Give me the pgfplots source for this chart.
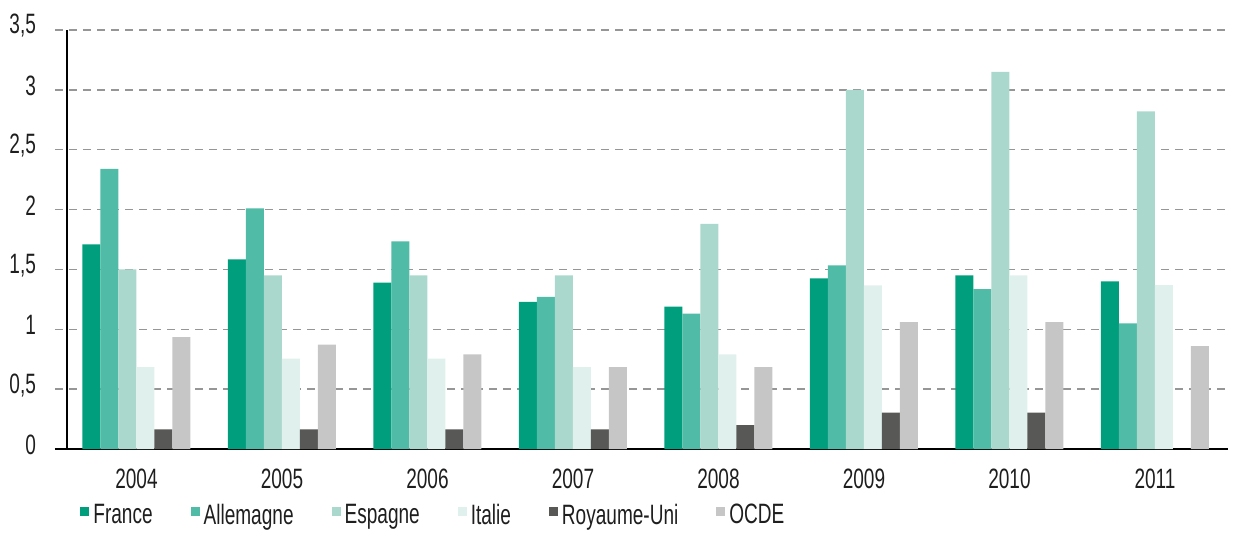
\documentclass[border=0pt]{standalone}
\usepackage{pgfplots}
\pgfplotsset{compat=1.18}
\usepackage{fontspec}
\setmainfont{Liberation Sans}[FakeStretch=0.68]

\definecolor{cfr}{RGB}{0,158,125}
\definecolor{cde}{RGB}{80,187,166}
\definecolor{ces}{RGB}{171,216,204}
\definecolor{cit}{RGB}{224,240,236}
\definecolor{cuk}{RGB}{88,88,86}
\definecolor{coc}{RGB}{198,198,198}
\definecolor{cgrid}{RGB}{150,150,150}
\definecolor{ctxt}{RGB}{30,30,30}

\pgfplotsset{sq/.style={legend image code/.code={\fill[##1,draw=none] (0pt,0pt) rectangle (4.5pt,4.5pt);}}}

\begin{document}
\begin{tikzpicture}
\useasboundingbox (-27.5pt,-41.5pt) rectangle (590.5pt,224.5pt);
\begin{axis}[
    at={(0,0)}, anchor=south west,
    scale only axis,
    width=586.5pt, height=209.5pt,
    ybar=0pt, bar width=9pt,
    xmin=-0.56, xmax=7.502,
    ymin=0, ymax=3.5,
    xtick={0,...,7},
    xticklabels={2004,2005,2006,2007,2008,2009,2010,2011},
    ytick={0,0.5,...,3.5},
    axis x line*=bottom, axis y line*=left,
    y axis line style={draw=none},
    x axis line style={black, line width=0.8pt},
    tick style={draw=none},
    ymajorgrids,
    grid style={cgrid, line width=0.75pt, dash pattern=on 4pt off 3pt},
    /pgf/number format/.cd, use comma, assume math mode=true, /pgfplots/.cd,
    tick label style={font=\fontsize{14}{16}\selectfont, text=ctxt},
    yticklabel style={xshift=-6pt, yshift=2pt},
    xticklabel style={yshift=-2pt},
    legend columns=6,
    legend style={draw=none, fill=none, inner sep=0pt, font=\fontsize{14}{16}\selectfont, text=ctxt,
        at={(0.0213,-0.197)}, anchor=south west,
        /tikz/every even column/.append style={column sep=17pt}},
    legend cell align=left,
]
\addplot[sq, fill=cfr, draw=none] coordinates {(0,1.71) (1,1.584) (2,1.39) (3,1.23) (4,1.19) (5,1.425) (6,1.45) (7,1.40)};
\addplot[sq, fill=cde, draw=none] coordinates {(0,2.34) (1,2.01) (2,1.735) (3,1.27) (4,1.13) (5,1.534) (6,1.335) (7,1.05)};
\addplot[sq, fill=ces, draw=none] coordinates {(0,1.50) (1,1.45) (2,1.45) (3,1.45) (4,1.88) (5,3.00) (6,3.15) (7,2.82)};
\addplot[sq, fill=cit, draw=none] coordinates {(0,0.685) (1,0.756) (2,0.756) (3,0.685) (4,0.79) (5,1.367) (6,1.45) (7,1.37)};
\addplot[sq, fill=cuk, draw=none] coordinates {(0,0.165) (1,0.165) (2,0.165) (3,0.165) (4,0.20) (5,0.304) (6,0.304)};
\addplot[sq, fill=coc, draw=none] coordinates {(0,0.935) (1,0.873) (2,0.79) (3,0.685) (4,0.685) (5,1.06) (6,1.06) (7,0.86)};
\legend{France,Allemagne,Espagne,Italie,Royaume-Uni,OCDE}
\draw[black, line width=0.8pt] (axis cs:-0.478,3.5) -- (axis cs:-0.478,-0.092);
\end{axis}
\end{tikzpicture}
\end{document}
